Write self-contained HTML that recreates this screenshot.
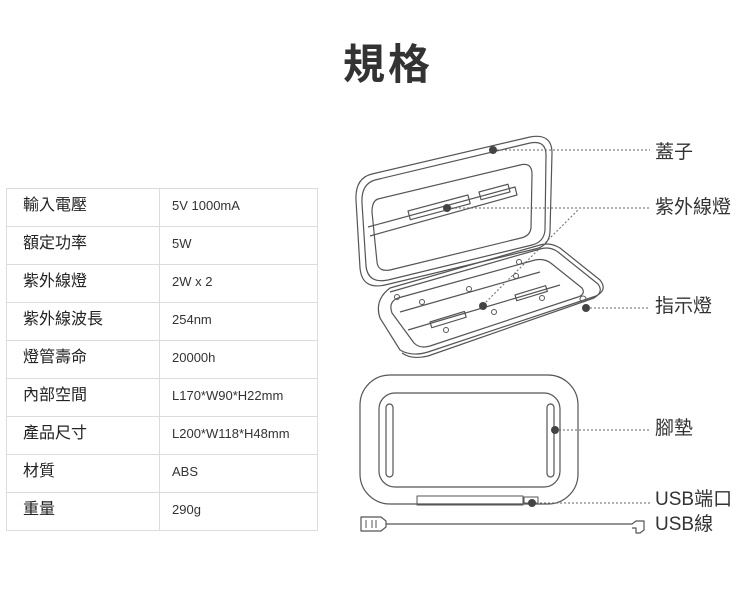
<!DOCTYPE html>
<html><head><meta charset="utf-8"><style>
body{margin:0;width:750px;height:607px;background:#fff;overflow:hidden;position:relative;font-family:"Liberation Sans","Noto Sans CJK TC",sans-serif;color:#333}
.t{position:absolute;left:343px;top:36px;font-size:42px;font-weight:bold;letter-spacing:3px;color:#333;font-family:"Noto Sans CJK TC",sans-serif;line-height:52px}
table{position:absolute;left:6px;top:188px;border-collapse:collapse}
td{border:1px solid #dcdcdc;height:33px;padding:0 0 4px 0;vertical-align:middle;line-height:18px}
td.a{width:136px;padding-left:16px;font-size:16px;font-family:"Liberation Sans","Noto Sans CJK TC",sans-serif;color:#222}
td.b{width:145px;padding-left:12px;font-size:13px;color:#333}
.l{position:absolute;left:655px;font-size:19px;color:#333;line-height:22px;font-family:"Liberation Sans","Noto Sans CJK TC",sans-serif}
</style></head><body>
<div class="t">規格</div>
<table>
<tr><td class="a">輸入電壓</td><td class="b">5V 1000mA</td></tr>
<tr><td class="a">額定功率</td><td class="b">5W</td></tr>
<tr><td class="a">紫外線燈</td><td class="b">2W x 2</td></tr>
<tr><td class="a">紫外線波長</td><td class="b">254nm</td></tr>
<tr><td class="a">燈管壽命</td><td class="b">20000h</td></tr>
<tr><td class="a">內部空間</td><td class="b">L170*W90*H22mm</td></tr>
<tr><td class="a">產品尺寸</td><td class="b">L200*W118*H48mm</td></tr>
<tr><td class="a">材質</td><td class="b">ABS</td></tr>
<tr><td class="a">重量</td><td class="b">290g</td></tr>
</table>
<svg width="750" height="607" style="position:absolute;left:0;top:0" fill="none" stroke="#555" stroke-width="1.2" stroke-linejoin="round">
<path d="M372 174 L530 137 Q552 133 552 153 L550 232 Q549 246 535 249 L385 285 Q362 290 360 268 L356 200 Q355 178 372 174 Z"/>
<path d="M375 180 L530 143 Q546 140 546 155 L545 230 Q544 242 532 245 L388 280 Q368 284 366 266 L362 203 Q361 184 375 180 Z"/>
<path d="M378 199 L520 165 Q532 162 532 174 L531 228 Q530 236 521 238 L390 270 Q378 272 377 262 L372 212 Q372 201 378 199 Z"/>
<path d="M368 227 L515 187 L517 195 L370 236"/>
<rect x="479" y="192" width="30" height="8" transform="rotate(-15 479 192)"/>
<rect x="408" y="211" width="62" height="9" transform="rotate(-15 408 211)"/>
<path d="M390 288 L540 245 Q550 242 560 248 L600 280 Q608 290 596 296 L428 352 Q412 357 400 350 L380 318 Q374 300 390 288 Z"/>
<path d="M390 292 L540 249 Q550 246 558 252 L598 284 Q604 292 594 298 L428 356 Q412 360 402 353"/>
<path d="M398 298 L535 260 Q545 258 552 264 L582 288 Q586 294 578 297 L430 346 Q420 349 414 343 L392 313 Q388 302 398 298 Z"/>
<path d="M408 330 L560 285"/>
<path d="M400 312 L540 272"/>
<rect x="430" y="322" width="36" height="6" transform="rotate(-17 430 322)"/>
<rect x="515" y="295" width="32" height="6" transform="rotate(-17 515 295)"/>
<g stroke-width="1"><circle cx="422" cy="302" r="2.5"/><circle cx="469" cy="289" r="2.5"/><circle cx="516" cy="276" r="2.5"/><circle cx="494" cy="312" r="2.5"/><circle cx="542" cy="298" r="2.5"/><circle cx="446" cy="330" r="2.5"/><circle cx="397" cy="297" r="2.5"/><circle cx="519" cy="262" r="2.5"/><circle cx="583" cy="299" r="3"/></g>
<rect x="360" y="375" width="218" height="129" rx="30"/>
<rect x="379" y="393" width="181" height="94" rx="16"/>
<rect x="386" y="404" width="7" height="73" rx="3.5"/>
<rect x="547" y="404" width="7" height="73" rx="3.5"/>
<rect x="417" y="496" width="106" height="9" stroke-width="1"/>
<rect x="524" y="497" width="14" height="6" stroke-width="1"/>
<path d="M361 517 h20 l5 4 v6 l-5 4 h-20 z" stroke-width="1.2"/>
<path d="M366 520 v8 M372 520 v8 M376 520 v8" stroke-width="1"/>
<path d="M386 524 H632 L636 521 H644 V530 L640 533 H636 V528 H632"/>
<g stroke="#666" stroke-width="1" stroke-dasharray="2,2">
<path d="M493 150 H650"/><path d="M447 208 H650"/><path d="M483 305 L578 210"/>
<path d="M586 308 H650"/><path d="M555 430 H650"/><path d="M532 503 H650"/>
</g>
<g fill="#444" stroke="none">
<circle cx="493" cy="150" r="4"/><circle cx="447" cy="208" r="4"/><circle cx="483" cy="306" r="4"/>
<circle cx="586" cy="308" r="4"/><circle cx="555" cy="430" r="4"/><circle cx="532" cy="503" r="4"/>
</g>
</svg>
<div class="l" style="top:142px">蓋子</div>
<div class="l" style="top:197px">紫外線燈</div>
<div class="l" style="top:296px">指示燈</div>
<div class="l" style="top:418px">腳墊</div>
<div class="l" style="top:489px">USB端口</div>
<div class="l" style="top:514px">USB線</div>
</body></html>
